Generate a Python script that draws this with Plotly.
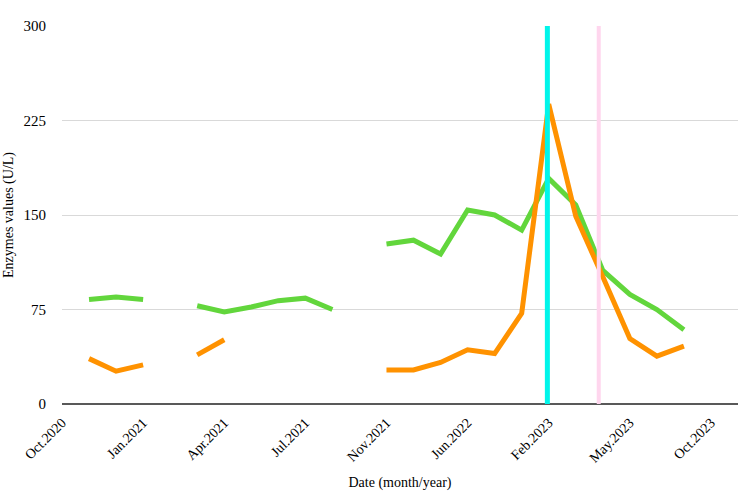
import plotly.graph_objects as go

# Category positions (index along the category axis)
positions = list(range(26))

# Tick labels shown every third category
tick_positions = [0, 3, 6, 9, 12, 15, 18, 21, 24]
tick_labels = ["Oct.2020", "Jan.2021", "Apr.2021", "Jul.2021", "Nov.2021",
               "Jun.2022", "Feb.2023", "May.2023", "Oct.2023"]

# Series values (None = no measurement)
green_values = [None, 83, 85, 83, None, 78, 73, 77, 82, 84, 75, None,
                127, 130, 119, 154, 150, 138, 179, 158, 106, 87, 75, 59, None, None]
orange_values = [None, 36, 26, 31, None, 39, 51, None, None, None, None, None,
                 27, 27, 33, 43, 40, 72, 238, 149, 101, 52, 38, 46, None, None]

# Event markers (category positions)
event_positions = [17.95, 19.85]
event_colors = ["#00f5ea", "#ffd6ee"]
event_widths = [5, 4]

y_range = [0, 300]
y_ticks = [0, 75, 150, 225, 300]

fig = go.Figure()
fig.add_trace(go.Scatter(x=positions, y=green_values, mode="lines",
                         line=dict(color="#62d63c", width=5), connectgaps=False,
                         showlegend=False))
fig.add_trace(go.Scatter(x=positions, y=orange_values, mode="lines",
                         line=dict(color="#ff9200", width=5), connectgaps=False,
                         showlegend=False))

for p, c, w in zip(event_positions, event_colors, event_widths):
    fig.add_shape(type="line", xref="x", yref="y", x0=p, x1=p,
                  y0=y_range[0], y1=y_range[1], line=dict(color=c, width=w),
                  layer="above")

font_family = "Liberation Serif"
fig.update_layout(
    width=750, height=501,
    margin=dict(l=62, r=12, t=26, b=97),
    paper_bgcolor="white", plot_bgcolor="white",
    font=dict(family=font_family, size=14, color="#000000"),
    xaxis=dict(range=[0, 25], tickmode="array", tickvals=tick_positions,
               ticktext=tick_labels, tickangle=-45, showgrid=False,
               zeroline=False, showline=False, ticks="outside", ticklen=4,
               tickcolor="rgba(0,0,0,0)", automargin=False,
               tickfont=dict(family=font_family, size=14),
               title=dict(text="Date (month/year)", standoff=12,
                          font=dict(family=font_family, size=14))),
    yaxis=dict(range=y_range, tickmode="array", tickvals=y_ticks,
               showgrid=True, gridcolor="#d9d9d9", gridwidth=1,
               zeroline=True, zerolinecolor="#595959", zerolinewidth=2,
               showline=False, ticks="outside", ticklen=12,
               tickcolor="rgba(0,0,0,0)", automargin=False,
               tickfont=dict(family=font_family, size=15),
               title=dict(text="Enzymes values (U/L)", standoff=6,
                          font=dict(family=font_family, size=14))),
)

fig.write_html("out.html")
